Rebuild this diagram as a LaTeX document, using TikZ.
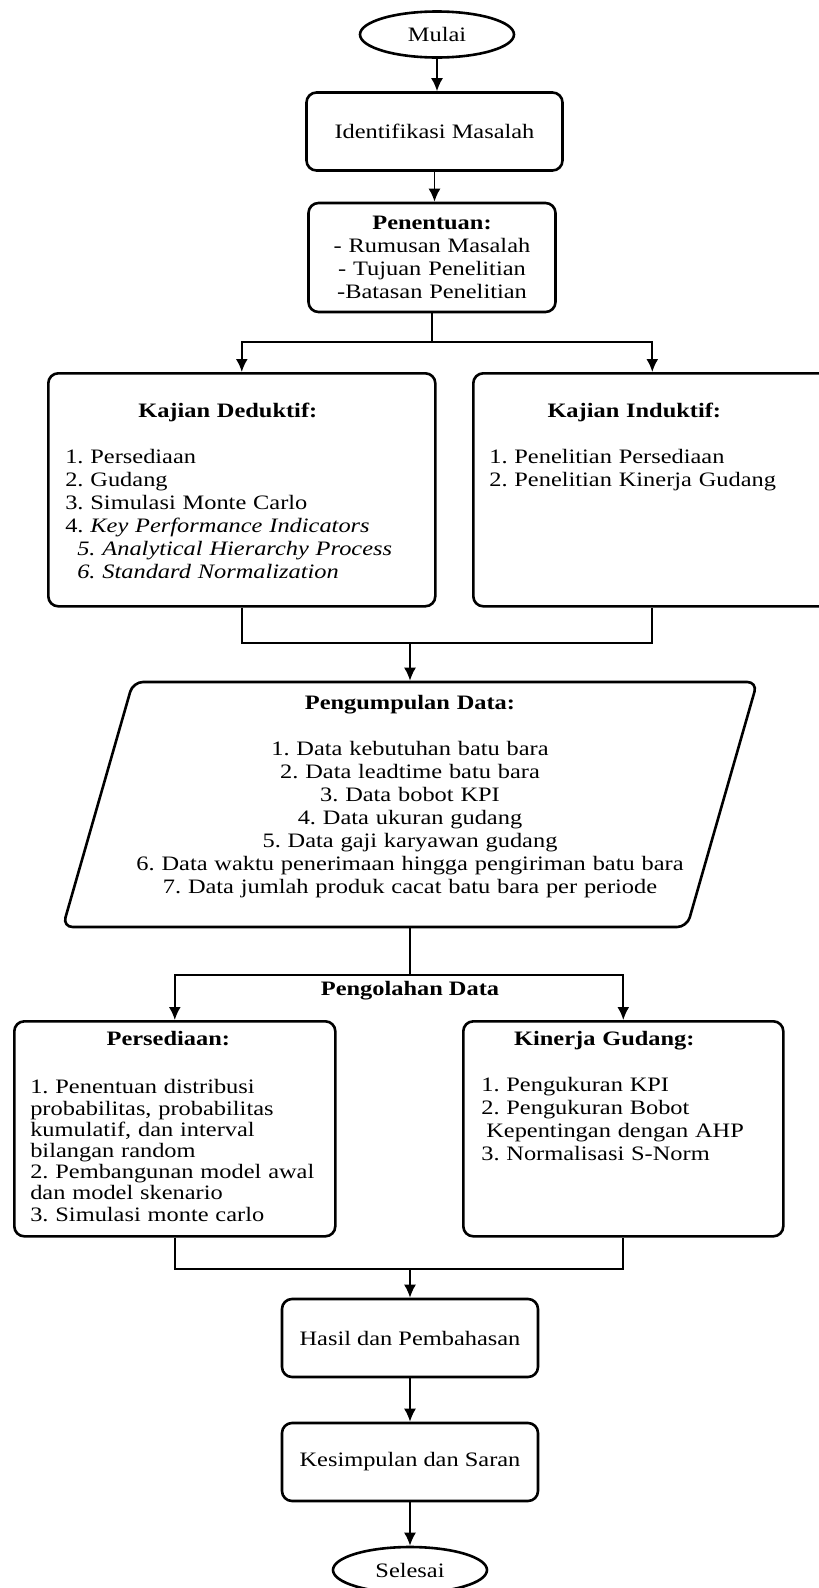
\documentclass[tikz,border=0pt]{standalone}
\usepackage{fontspec}
\setmainfont{Liberation Serif}[FakeStretch=1.19]
\usetikzlibrary{arrows.meta, positioning, shapes.geometric}
\frenchspacing

\tikzset{
  term/.style={ellipse, draw, line width=2.6pt, minimum width=154pt, minimum height=46pt, inner sep=0pt},
  proc/.style={rectangle, draw, rounded corners=10pt, line width=2.6pt, minimum width=256pt, minimum height=78pt, inner sep=0pt},
  listbox/.style={rectangle, draw, rounded corners=10pt, line width=2.6pt, anchor=north west, inner sep=0pt, align=left},
  databox/.style={trapezium, trapezium left angle=74, trapezium right angle=106, draw, rounded corners=10pt,
    line width=2.6pt, inner sep=0pt, text width=554pt, align=center, text height=27.5pt, text depth=217.5pt},
  flowline/.style={line width=1.9pt},
  flow/.style={line width=1.9pt, -{Latex[length=13pt, width=12pt]}}
}

\begin{document}
\begin{tikzpicture}[x=1pt, y=-1pt, every node/.style={font=\fontsize{20.5}{23}\selectfont}]
\useasboundingbox (0,0) rectangle (819,1588);

% awal
\node[term] (mulai) at (437,34.5) {Mulai};
\node[proc] (identifikasi) at (434.5,131.5) {Identifikasi Masalah};
\node[proc, minimum width=247pt, minimum height=109pt, text width=240pt, align=center] (penentuan) at (432,257.5)
  {\textbf{Penentuan:}\\- Rumusan Masalah\\- Tujuan Penelitian\\-Batasan Penelitian};

% kajian
\node[listbox, inner xsep=17pt, text width=353pt, text height=44.5pt, text depth=188.5pt] (deduktif) at (47,372)
  {\makebox[325pt]{\textbf{Kajian Deduktif:}}\\[23pt]
   1. Persediaan\\
   2. Gudang\\
   3. Simulasi Monte Carlo\\
   4. \textit{Key Performance Indicators}\\
   \hspace*{12pt}\textit{5. Analytical Hierarchy Process}\\
   \hspace*{12pt}\textit{6. Standard Normalization}};
\node[listbox, inner xsep=16pt, text width=326pt, text height=44.5pt, text depth=188.5pt] (induktif) at (472,372)
  {\makebox[290pt]{\textbf{Kajian Induktif:}}\\[23pt]
   1. Penelitian Persediaan\\
   2. Penelitian Kinerja Gudang};

% data
\node[databox] (kumpul) at (410,804.5)
  {\textbf{Pengumpulan Data:}\\[23pt]
   1. Data kebutuhan batu bara\\
   2. Data leadtime batu bara\\
   3. Data bobot KPI\\
   4. Data ukuran gudang\\
   5. Data gaji karyawan gudang\\
   6. Data waktu penerimaan hingga pengiriman batu bara\\
   7. Data jumlah produk cacat batu bara per periode};
\node[font=\fontsize{20.5}{23}\selectfont\bfseries] (olah) at (410,991) {Pengolahan Data};

% pengolahan
\node[listbox, font=\fontsize{20.5}{21.2}\selectfont, inner xsep=16pt, text width=289pt, text height=24.5pt, text depth=190.5pt] (persediaan) at (13,1020)
  {\makebox[276pt]{\textbf{Persediaan:}}\\[26.8pt]
   1. Penentuan distribusi\\
   probabilitas, probabilitas\\
   kumulatif, dan interval\\
   bilangan random\\
   2. Pembangunan model awal\\
   dan model skenario\\
   3. Simulasi monte carlo};
\node[listbox, inner xsep=18pt, text width=284pt, text height=24.5pt, text depth=190.5pt] (kinerja) at (462,1020)
  {\makebox[246pt]{\textbf{Kinerja Gudang:}}\\[23pt]
   1. Pengukuran KPI\\
   2. Pengukuran Bobot\\
   \hspace*{5pt}Kepentingan dengan AHP\\
   3. Normalisasi S-Norm};

% akhir
\node[proc] (hasil) at (410,1338) {Hasil dan Pembahasan};
\node[proc] (simpulan) at (410,1462) {Kesimpulan dan Saran};
\node[term] (selesai) at (410,1570) {Selesai};

\coordinate (cabang1) at (432,342);
\coordinate (gabung1) at (410,643);
\coordinate (cabang2) at (410,975);
\coordinate (gabung2) at (410,1269);

\draw[flow] (mulai.south) -- (mulai.south |- identifikasi.north);
\draw[flow] (identifikasi.south) -- (identifikasi.south |- penentuan.north);
\draw[flowline] (penentuan.south) -- (cabang1);
\draw[flow] (cabang1) -| (deduktif.north);
\draw[flow] (cabang1) -| (induktif.north);
\draw[flowline] (deduktif.south) |- (gabung1) -| (induktif.south);
\draw[flow] (gabung1) -- (gabung1 |- kumpul.north);
\draw[flowline] (cabang2 |- kumpul.south) -- (cabang2);
\draw[flow] (cabang2) -| (persediaan.north);
\draw[flow] (cabang2) -| (kinerja.north);
\draw[flowline] (persediaan.south) |- (gabung2) -| (kinerja.south);
\draw[flow] (gabung2) -- (hasil.north);
\draw[flow] (hasil.south) -- (simpulan.north);
\draw[flow] (simpulan.south) -- (selesai.north);
\end{tikzpicture}
\end{document}
